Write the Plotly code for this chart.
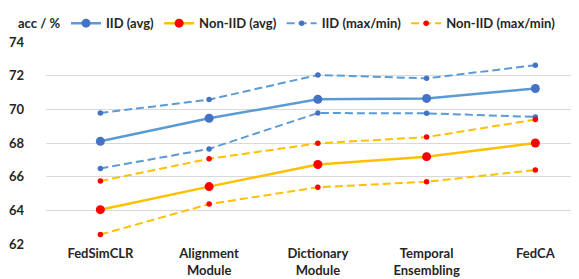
import plotly.graph_objects as go

categories = ["FedSimCLR", "Alignment<br>Module", "Dictionary<br>Module", "Temporal<br>Ensembling", "FedCA"]
iid_avg = [68.1, 69.47, 70.6, 70.65, 71.24]
iid_max = [69.78, 70.58, 72.04, 71.84, 72.62]
iid_min = [66.49, 67.65, 69.78, 69.76, 69.55]
non_avg = [64.04, 65.41, 66.72, 67.19, 68.0]
non_max = [65.74, 67.06, 67.98, 68.35, 69.39]
non_min = [62.56, 64.37, 65.37, 65.7, 66.39]

BLUE_L = "#5B9BD5"
BLUE_M = "#4472C4"
GOLD = "#FFC000"
RED = "#FF0000"
DASH = "8px,4px"

fig = go.Figure()
fig.add_trace(go.Scatter(x=categories, y=iid_avg, name="IID (avg)", mode="lines+markers",
                         line=dict(color=BLUE_L, width=2.5), marker=dict(color=BLUE_M, size=9)))
fig.add_trace(go.Scatter(x=categories, y=non_avg, name="Non-IID (avg)", mode="lines+markers",
                         line=dict(color=GOLD, width=2.5), marker=dict(color=RED, size=9)))
fig.add_trace(go.Scatter(x=categories, y=iid_max, name="IID (max/min)", mode="lines+markers", legendgroup="iidmm",
                         line=dict(color=BLUE_L, width=2, dash=DASH), marker=dict(color=BLUE_M, size=5.5)))
fig.add_trace(go.Scatter(x=categories, y=iid_min, name="IID (max/min)", mode="lines+markers", legendgroup="iidmm",
                         showlegend=False,
                         line=dict(color=BLUE_L, width=2, dash=DASH), marker=dict(color=BLUE_M, size=5.5)))
fig.add_trace(go.Scatter(x=categories, y=non_max, name="Non-IID (max/min)", mode="lines+markers", legendgroup="nonmm",
                         line=dict(color=GOLD, width=2, dash=DASH), marker=dict(color=RED, size=5.5)))
fig.add_trace(go.Scatter(x=categories, y=non_min, name="Non-IID (max/min)", mode="lines+markers", legendgroup="nonmm",
                         showlegend=False,
                         line=dict(color=GOLD, width=2, dash=DASH), marker=dict(color=RED, size=5.5)))

FONT = dict(family="Lato, Liberation Sans, sans-serif", size=13, color="#262626", weight="bold")

fig.update_layout(
    width=579, height=279,
    margin=dict(l=38, r=0, t=32, b=43),
    paper_bgcolor="white", plot_bgcolor="white",
    font=FONT,
    showlegend=True,
    legend=dict(orientation="h", x=0.037, xanchor="left", y=1.093, yanchor="middle",
                font=FONT, bgcolor="rgba(0,0,0,0)", tracegroupgap=0),
    xaxis=dict(type="category", range=[-0.5, 4.475], showgrid=False, showline=False, ticks="",
               zeroline=False, tickfont=FONT, ticklabelstandoff=0),
    yaxis=dict(range=[62, 74], dtick=2, showgrid=True, gridcolor="#D9D9D9", gridwidth=1,
               zeroline=False, showline=False, ticks="", tickfont=FONT, ticklabelstandoff=21),
    annotations=[dict(text="acc / %", xref="paper", yref="paper", x=-0.055, y=1.093,
                      xanchor="left", yanchor="middle", showarrow=False, font=FONT)],
)
fig.write_html("out.html")
